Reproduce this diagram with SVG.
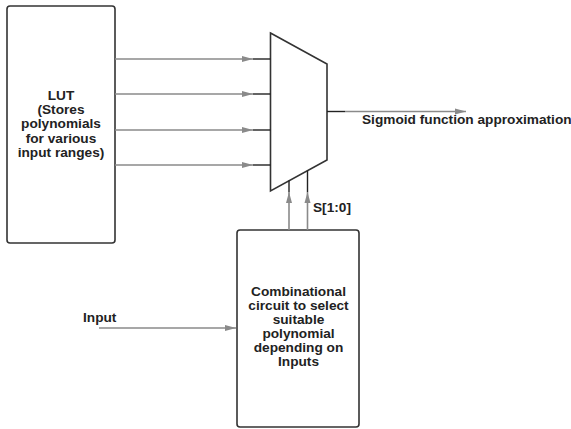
<svg xmlns="http://www.w3.org/2000/svg" width="571" height="429" viewBox="0 0 571 429">
<style>
.box{fill:#fff;stroke:#333;stroke-width:1.6}
.t{font-family:"Liberation Sans",Arial,sans-serif;font-weight:bold;font-size:12px;fill:#222}
.c{text-anchor:middle}
.g{stroke:#8a8a8a;stroke-width:1.6;fill:none}
.k{stroke:#222;stroke-width:1.4;fill:none}
</style>
<defs>
<marker id="ah" markerWidth="11" markerHeight="7" refX="11" refY="3.5" orient="auto" markerUnits="userSpaceOnUse">
<path d="M0,0.5 L11,3.5 L0,6.5 Z" fill="#8a8a8a"/>
</marker>
</defs>
<rect width="571" height="429" fill="#fff"/>
<g id="lut">
<rect class="box" x="7" y="6" width="108" height="237" rx="3"/>
<g transform="translate(61,0) scale(1.14,1)">
<text class="t c" x="0" y="100">LUT</text>
<text class="t c" x="0" y="114">(Stores</text>
<text class="t c" x="0" y="128.5">polynomials</text>
<text class="t c" x="0" y="143">for various</text>
<text class="t c" x="0" y="157.5">input ranges)</text>
</g>
</g>
<g id="mux">
<polygon class="box" points="270.5,33 327,64 327,160 270.5,191"/>
</g>
<g id="comb">
<rect class="box" x="237" y="230" width="122" height="197" rx="3"/>
<g transform="translate(298.5,0) scale(1.14,1)">
<text class="t c" x="0" y="296">Combinational</text>
<text class="t c" x="0" y="310">circuit to select</text>
<text class="t c" x="0" y="324">suitable</text>
<text class="t c" x="0" y="338">polynomial</text>
<text class="t c" x="0" y="352">depending on</text>
<text class="t c" x="0" y="366">Inputs</text>
</g>
</g>
<g id="connectors">
<line class="g" x1="115" y1="59" x2="253" y2="59" marker-end="url(#ah)"/>
<line class="k" x1="253" y1="59" x2="270.5" y2="59"/>
<line class="g" x1="115" y1="94" x2="253" y2="94" marker-end="url(#ah)"/>
<line class="k" x1="253" y1="94" x2="270.5" y2="94"/>
<line class="g" x1="115" y1="130" x2="253" y2="130" marker-end="url(#ah)"/>
<line class="k" x1="253" y1="130" x2="270.5" y2="130"/>
<line class="g" x1="115" y1="165" x2="253" y2="165" marker-end="url(#ah)"/>
<line class="k" x1="253" y1="165" x2="270.5" y2="165"/>
<line class="k" x1="327" y1="111.5" x2="345" y2="111.5"/>
<line class="g" x1="345" y1="111.5" x2="466" y2="111.5" marker-end="url(#ah)"/>
<line class="g" x1="289" y1="230" x2="289" y2="192" marker-end="url(#ah)"/>
<line class="k" x1="289" y1="192" x2="289" y2="180.5"/>
<line class="g" x1="307.5" y1="230" x2="307.5" y2="192" marker-end="url(#ah)"/>
<line class="k" x1="307.5" y1="192" x2="307.5" y2="170.5"/>
<line class="g" x1="99" y1="328" x2="236" y2="328" marker-end="url(#ah)"/>
</g>
<g id="labels">
<text class="t" transform="translate(362,124) scale(1.14,1)">Sigmoid function approximation</text>
<text class="t" transform="translate(313,212) scale(1.14,1)">S[1:0]</text>
<text class="t" transform="translate(83,322) scale(1.14,1)">Input</text>
</g>
</svg>
